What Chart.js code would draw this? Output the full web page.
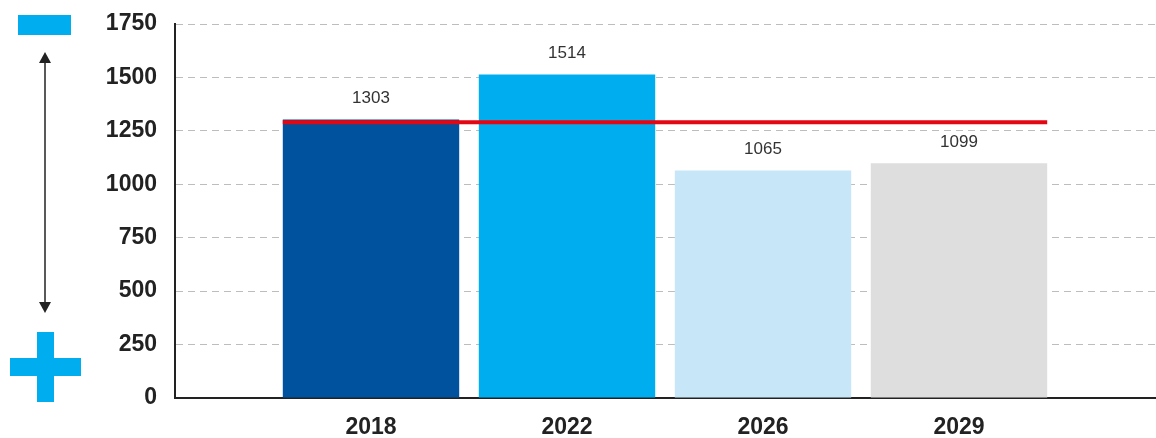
<!DOCTYPE html>
<html>
<head>
<meta charset="utf-8">
<script src="https://cdn.jsdelivr.net/npm/chart.js@4"></script>
<style>
  body { margin: 0; background: #fff; }
  #wrap { width: 1156px; height: 438px; position: relative; }
</style>
</head>
<body>
<div id="wrap"><canvas id="costChart"></canvas></div>
<script>
const years = ['2018', '2022', '2026', '2029'];
const amounts = [1303, 1514, 1065, 1099];
const barColors = ['#00529f', '#00aeef', '#c7e7f9', '#dededf'];
const referenceLevel = 1290;
const yTicks = [0, 250, 500, 750, 1000, 1250, 1500, 1750];

const FONT = '"Liberation Sans", Arial, sans-serif';

// red reference line across the bars + value labels on top
const barExtras = {
    id: 'barExtras',
    afterDatasetsDraw(chart) {
        const ctx = chart.ctx;
        const bars = chart.getDatasetMeta(0).data;
        const y = chart.scales.y.getPixelForValue(referenceLevel);
        const first = bars[0], last = bars[bars.length - 1];
        ctx.save();
        ctx.strokeStyle = '#e30613';
        ctx.lineWidth = 4;
        ctx.beginPath();
        ctx.moveTo(first.x - first.width / 2, y);
        ctx.lineTo(last.x + last.width / 2, y);
        ctx.stroke();

        ctx.fillStyle = '#333';
        ctx.font = '17px ' + FONT;
        ctx.textAlign = 'center';
        ctx.textBaseline = 'middle';
        bars.forEach((bar, i) => {
            ctx.fillText(String(amounts[i]), bar.x, bar.y - 21);
        });
        ctx.restore();
    }
};

// minus / arrow / plus marks at the far left
const sideMarks = {
    id: 'sideMarks',
    afterDraw(chart) {
        const ctx = chart.ctx;
        ctx.save();
        ctx.fillStyle = '#00aeef';
        ctx.fillRect(18, 15, 53, 20);
        ctx.fillRect(10, 358, 71, 18);
        ctx.fillRect(37, 332, 17, 70);

        ctx.strokeStyle = '#222';
        ctx.fillStyle = '#222';
        ctx.lineWidth = 1.5;
        ctx.beginPath();
        ctx.moveTo(45, 60);
        ctx.lineTo(45, 305);
        ctx.stroke();
        ctx.beginPath();
        ctx.moveTo(45, 52);
        ctx.lineTo(39, 63);
        ctx.lineTo(51, 63);
        ctx.closePath();
        ctx.fill();
        ctx.beginPath();
        ctx.moveTo(45, 313);
        ctx.lineTo(39, 302);
        ctx.lineTo(51, 302);
        ctx.closePath();
        ctx.fill();
        ctx.restore();
    }
};

new Chart(document.getElementById('costChart'), {
    type: 'bar',
    data: {
        datasets: [{
            data: years.map((y, i) => ({ x: i, y: amounts[i] })),
            backgroundColor: barColors,
            barPercentage: 0.9,
            categoryPercentage: 1
        }]
    },
    options: {
        responsive: true,
        maintainAspectRatio: false,
        animation: false,
        layout: { padding: { left: 90, right: 1, top: 24, bottom: 0 } },
        plugins: {
            legend: { display: false },
            tooltip: { enabled: false }
        },
        scales: {
            x: {
                type: 'linear',
                offset: false,
                min: -1,
                max: 4,
                afterBuildTicks: (s) => { s.ticks = [-1, 0, 1, 2, 3, 4].map(v => ({ value: v })); },
                afterFit: (s) => { s.height = 40; s.paddingLeft = 0; s.paddingRight = 0; },
                grid: { display: false, drawTicks: false, offset: false },
                border: { display: true, color: '#222', width: 2 },
                ticks: {
                    padding: 16,
                    color: '#222',
                    font: { family: FONT, size: 23, weight: 'bold' },
                    maxRotation: 0,
                    callback: (v) => years[v] ?? ''
                }
            },
            y: {
                min: 0,
                max: 1750,
                afterBuildTicks: (s) => { s.ticks = yTicks.map(v => ({ value: v })); },
                afterFit: (s) => { s.width = 85; s.paddingTop = 0; s.paddingBottom = 0; },
                grid: { color: '#bdbdbd', lineWidth: 1, drawTicks: false },
                border: { display: true, color: '#222', width: 2, dash: [7, 5] },
                ticks: {
                    padding: 18,
                    color: '#222',
                    font: { family: FONT, size: 23, weight: 'bold' },
                    callback: (v) => String(v)
                }
            }
        }
    },
    plugins: [barExtras, sideMarks]
});
</script>
</body>
</html>
